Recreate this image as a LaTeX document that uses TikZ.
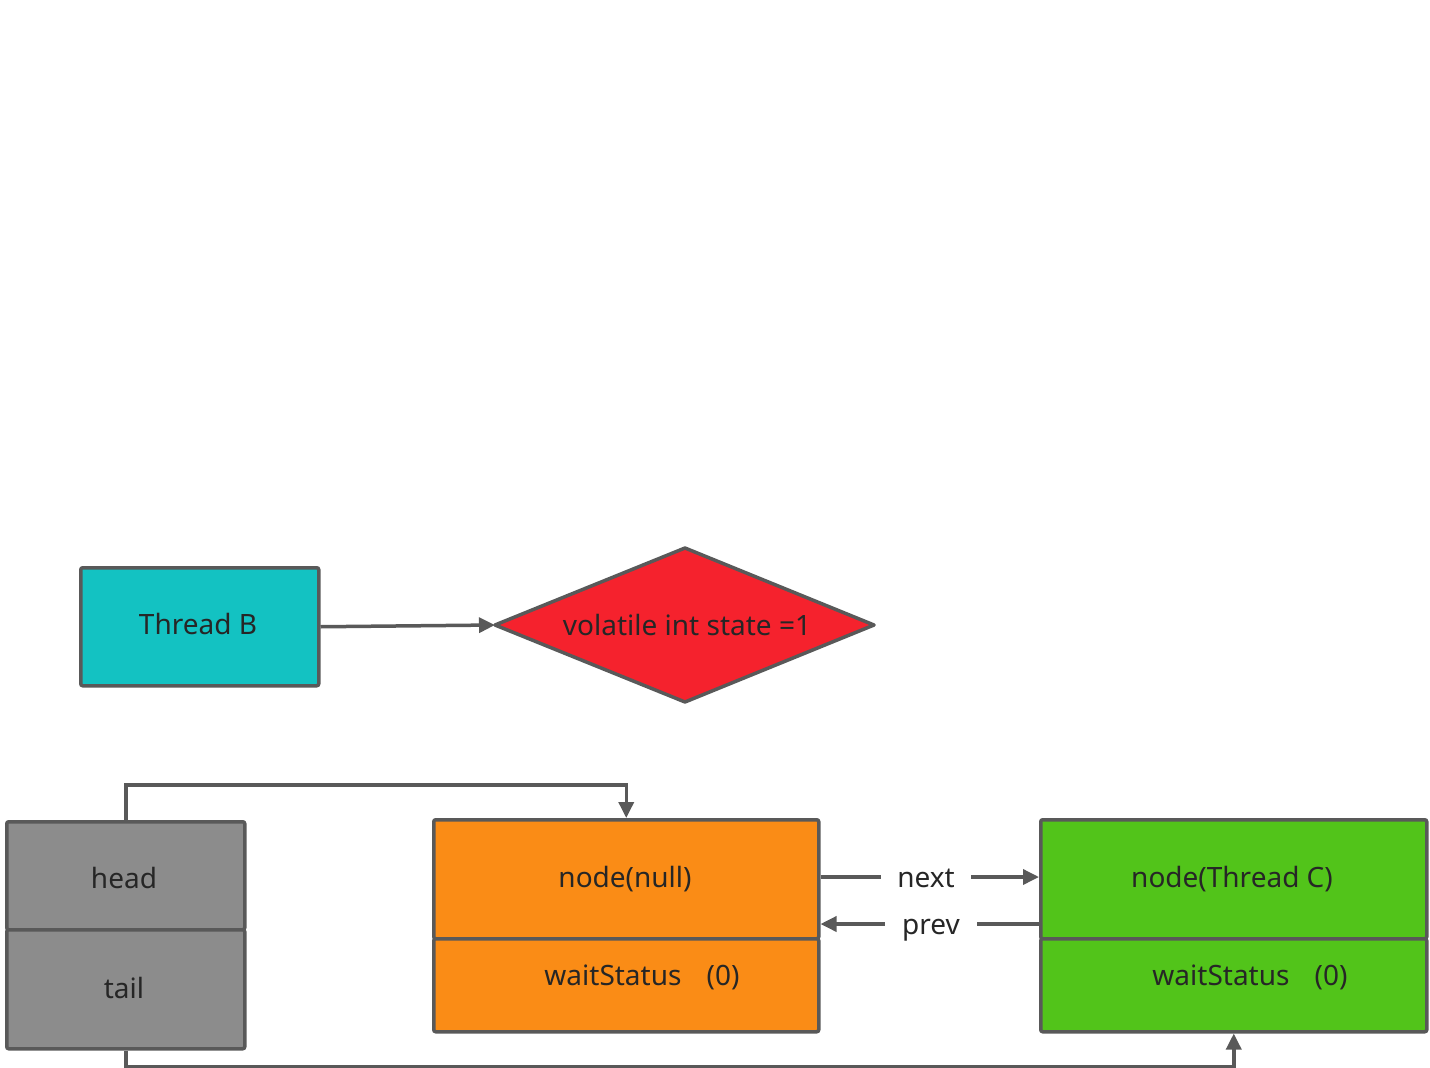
\documentclass[tikz,border=0pt]{standalone}
\usepackage{fontspec}
\setmainfont{Noto Sans}
\usetikzlibrary{arrows.meta}
\definecolor{lc}{HTML}{595959}
\definecolor{tc}{HTML}{262626}
\definecolor{cyanf}{HTML}{13C2C2}
\definecolor{redf}{HTML}{F5222D}
\definecolor{grayf}{HTML}{8C8C8C}
\definecolor{orangef}{HTML}{FA8C16}
\definecolor{greenf}{HTML}{52C41A}
\tikzset{
  box/.style={draw=lc, line width=3.5pt, rounded corners=2pt, inner sep=0pt, anchor=north west},
  txt/.style={text=tc, font=\fontsize{28}{32}\selectfont, inner sep=0pt, anchor=base},
  conn/.style={draw=lc, line width=3.5pt, -{Triangle[length=16pt,width=15pt]}},
  lbl/.style={text=tc, font=\fontsize{28}{32}\selectfont, fill=white, inner sep=0pt,
              text height=20pt, text depth=0pt, minimum height=26pt, anchor=center},
}
\begin{document}
\begin{tikzpicture}[x=1pt,y=-1pt]
\useasboundingbox (0,0) rectangle (1430,1068);
% Thread B
\node[box, fill=cyanf, minimum width=238pt, minimum height=118pt] (tb) at (79,566) {};
\node[txt] (tbt) at (198,634) {Thread B};
% diamond
\filldraw[fill=redf, draw=lc, line width=3.5pt, line join=round] (495,625) -- (685,548) -- (874,625) -- (685,702) -- cycle;
\coordinate (dl) at (495,625);
\node[txt] (dt) at (687,635) {volatile int state =1};
\draw[conn] (tb.east) -- (dl);
% head / tail
\node[box, fill=grayf, minimum width=238pt, minimum height=108pt] (head) at (5,820) {};
\node[box, fill=grayf, minimum width=238pt, minimum height=119pt] (tail) at (5,928) {};
\node[txt] (headt) at (124,888) {head};
\node[txt] (tailt) at (124,998) {tail};
% node(null)
\node[box, fill=orangef, minimum width=385pt, minimum height=119pt] (n1) at (432,818) {};
\node[box, fill=orangef, minimum width=385pt, minimum height=93pt] (w1) at (432,937) {};
\node[txt] (n1t) at (625,887) {node(null)};
\node[txt] (w1t) at (642,985) {waitStatus\hspace{0.9em}(0)};
% node(Thread C)
\node[box, fill=greenf, minimum width=386pt, minimum height=119pt] (n2) at (1039,818) {};
\node[box, fill=greenf, minimum width=386pt, minimum height=93pt] (w2) at (1039,937) {};
\node[txt] (n2t) at (1232,887) {node(Thread C)};
\node[txt] (w2t) at (1250,985) {waitStatus\hspace{0.9em}(0)};
% head -> node(null)
\draw[conn] (head.north) -- ++(0,-35) -| (n1.north);
% tail -> node(Thread C)
\draw[conn] (tail.south) -- ++(0,16) -| (w2.south);
% next / prev
\draw[conn] (n1.east |- 0,877) -- (n2.west |- 0,877);
\node[lbl, minimum width=90pt] (nextl) at (926,877) {next};
\draw[conn] (n2.west |- 0,924) -- (n1.east |- 0,924);
\node[lbl, minimum width=92pt] (prevl) at (931,924) {prev};
\end{tikzpicture}
\end{document}
